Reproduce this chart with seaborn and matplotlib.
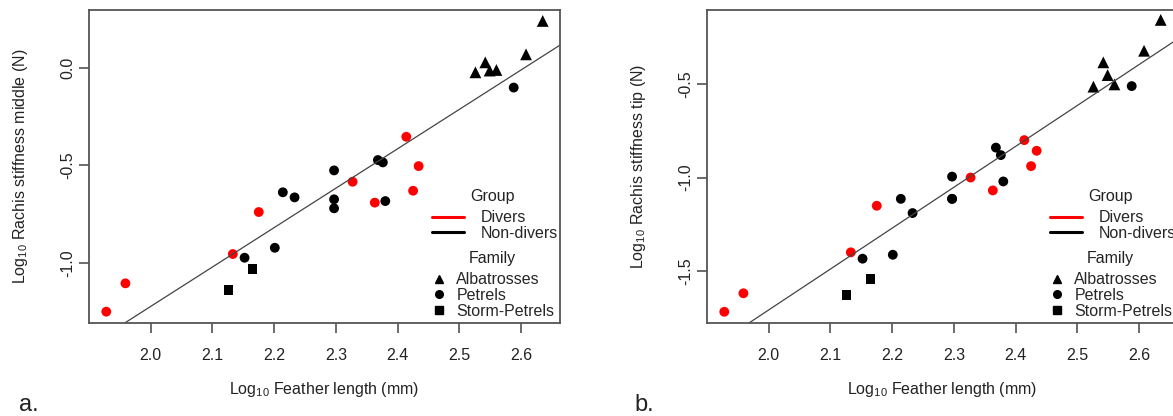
import numpy as np
import pandas as pd
import matplotlib
matplotlib.use("Agg")
import matplotlib.pyplot as plt
from matplotlib.lines import Line2D
import seaborn as sns

sns.set_style("white")
plt.rcParams["font.family"] = ["Liberation Sans", "DejaVu Sans"]
plt.rcParams["mathtext.fontset"] = "custom"
plt.rcParams["mathtext.rm"] = "Liberation Sans"
plt.rcParams["mathtext.it"] = "Liberation Sans:italic"

# log10 feather length (mm), same birds in both panels
feather_length = [1.928, 1.959, 2.133, 2.175, 2.152, 2.165, 2.126, 2.201, 2.214, 2.233,
                  2.297, 2.297, 2.297, 2.327, 2.363, 2.380, 2.368, 2.376, 2.414, 2.434,
                  2.425, 2.588, 2.526, 2.542, 2.549, 2.560, 2.608, 2.635]
stiff_middle = [-1.249, -1.104, -0.954, -0.739, -0.973, -1.031, -1.138, -0.922, -0.638, -0.664,
                -0.526, -0.674, -0.720, -0.584, -0.691, -0.683, -0.473, -0.485, -0.354, -0.504,
                -0.630, -0.102, -0.024, 0.027, -0.015, -0.012, 0.068, 0.239]
stiff_tip = [-1.718, -1.619, -1.400, -1.151, -1.434, -1.544, -1.630, -1.413, -1.114, -1.190,
             -0.995, -1.114, -1.114, -1.000, -1.069, -1.021, -0.840, -0.880, -0.800, -0.857,
             -0.939, -0.511, -0.514, -0.384, -0.452, -0.502, -0.322, -0.157]
group = ["Divers"] * 4 + ["Non-divers"] * 9 + ["Divers"] * 2 + ["Non-divers"] * 3 \
        + ["Divers"] * 3 + ["Non-divers"] * 7
family = ["Petrels"] * 5 + ["Storm-Petrels"] * 2 + ["Petrels"] * 15 + ["Albatrosses"] * 6

# fitted lines (intercept, slope)
fit_middle = (-5.256, 2.017)
fit_tip = (-6.082, 2.187)

df = pd.DataFrame({"length": feather_length, "middle": stiff_middle, "tip": stiff_tip,
                   "group": group, "family": family})

pal = {"Divers": "#ff0000", "Non-divers": "#000000"}
mk = {"Albatrosses": "^", "Petrels": "o", "Storm-Petrels": "s"}
msize = {"Albatrosses": 72, "Petrels": 50, "Storm-Petrels": 50}
txt = "#222222"
fs = 11.5

fig = plt.figure(figsize=(11.73, 4.16), dpi=100)
ax_a = fig.add_axes([89 / 1173, 93 / 416, 471 / 1173, 313 / 416])
ax_b = fig.add_axes([707 / 1173, 93 / 416, 471 / 1173, 313 / 416])

panels = [
    (ax_a, "middle", fit_middle, (-1.307, 0.295), [-1.0, -0.5, 0.0],
     r"Log$_{10}$ Rachis stiffness middle (N)"),
    (ax_b, "tip", fit_tip, (-1.778, -0.104), [-1.5, -1.0, -0.5],
     r"Log$_{10}$ Rachis stiffness tip (N)"),
]

for ax, col, fit, ylim, yt, ylab in panels:
    sns.scatterplot(data=df, x="length", y=col, hue="group", style="family",
                    size="family", sizes=msize, palette=pal, markers=mk,
                    linewidth=0, legend=False, ax=ax)
    ax.axline((0, fit[0]), slope=fit[1], color="#444444", lw=0.9)
    ax.set_xlim(1.9, 2.663)
    ax.set_ylim(*ylim)
    ax.set_xticks([2.0, 2.1, 2.2, 2.3, 2.4, 2.5, 2.6])
    ax.set_yticks(yt)
    ax.set_xticklabels([f"{v:.1f}" for v in ax.get_xticks()])
    ax.set_yticklabels([f"{v:.1f}" for v in yt], rotation=90, va="center")
    ax.tick_params(bottom=True, left=True, direction="out", length=7, width=1.1,
                   color="#444444", labelsize=fs, labelcolor=txt, pad=11)
    ax.tick_params(axis="y", pad=3)
    for sp in ax.spines.values():
        sp.set_color("#555555")
        sp.set_linewidth(1.3)
    ax.set_xlabel(r"Log$_{10}$ Feather length (mm)", fontsize=fs, color=txt)
    ax.set_ylabel(ylab, fontsize=fs, color=txt)
    ax.xaxis.set_label_coords(0.5, -0.183)
    ax.yaxis.set_label_coords(-0.125, 0.5)

    # R-style legends: title text plus borderless key
    ax.text(0.857, 0.403, "Group", transform=ax.transAxes, ha="center",
            va="center", fontsize=fs, color=txt)
    g_handles = [Line2D([], [], color=pal[k], lw=2.2) for k in pal]
    leg1 = ax.legend(g_handles, list(pal), loc="upper center",
                     bbox_to_anchor=(0.862, 0.391), frameon=False, fontsize=fs,
                     labelspacing=0.05, handlelength=2.0,
                     handletextpad=1.0, borderpad=0.1)
    ax.add_artist(leg1)
    ax.text(0.857, 0.205, "Family", transform=ax.transAxes, ha="center",
            va="center", fontsize=fs, color=txt)
    f_handles = [Line2D([], [], ls="", marker=mk[k], color="black", markersize=5.5)
                 for k in mk]
    ax.legend(f_handles, list(mk), loc="upper center",
              bbox_to_anchor=(0.857, 0.193), frameon=False, fontsize=fs,
              labelspacing=0.05, handlelength=1.0,
              handletextpad=0.6, borderpad=0.1)

fig.text(0.016, 0.012, "a.", fontsize=17, color=txt)
fig.text(0.541, 0.012, "b.", fontsize=17, color=txt)

fig.savefig("out.png", dpi=100)
plt.close()
